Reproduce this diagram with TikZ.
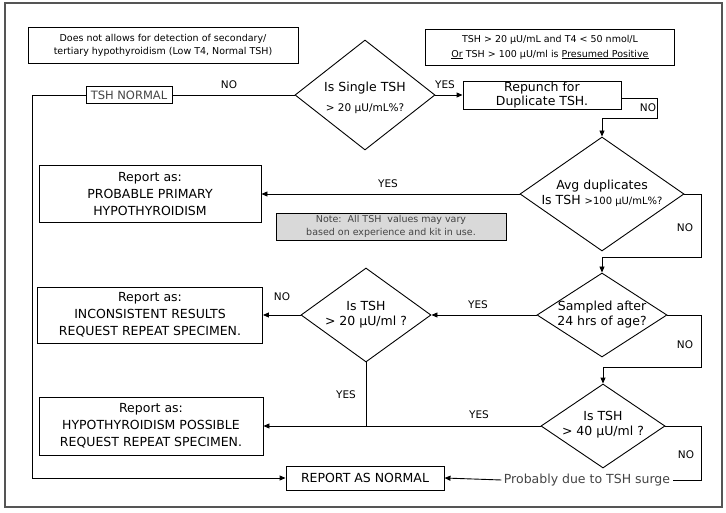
\documentclass[tikz,border=0pt]{standalone}
\usepackage{fontspec}
\setmainfont{DejaVu Sans}
\usetikzlibrary{shapes.geometric,arrows.meta}

\definecolor{framegray}{HTML}{555555}
\definecolor{notefill}{HTML}{D9D9D9}
\definecolor{softtext}{HTML}{444444}

\tikzset{
    box/.style={draw, inner sep=0pt, align=center, font=\fontsize{12.5}{17}\selectfont},
    smallbox/.style={draw, inner sep=0pt, align=center, font=\fontsize{9.5}{13}\selectfont},
    dia/.style={draw, diamond, inner sep=0pt},
    dtxt/.style={align=center, font=\fontsize{12.5}{15}\selectfont},
    lbl/.style={font=\fontsize{10.5}{11}\selectfont},
    arr/.style={-{Triangle[length=6pt,width=5pt]}},
}

\begin{document}
\begin{tikzpicture}[x=1pt, y=-1pt, line width=0.9pt]
    \useasboundingbox (0,0) rectangle (726,513);
    \draw[line width=2.5pt, framegray] (5,3) rectangle (722,507);

    % remarks at the top
    \node[smallbox, minimum width=270pt, minimum height=36pt] (limit) at (163,45)
        {Does not allows for detection of secondary/\\tertiary hypothyroidism (Low T4, Normal TSH)};
    \node[smallbox, minimum width=249pt, minimum height=36pt, font=\fontsize{9.5}{15}\selectfont] (rule) at (550,47)
        {TSH > 20 µU/mL and T4 < 50 nmol/L\\\underline{Or} TSH > 100 µU/ml is \underline{Presumed Positive}};
    \node[smallbox, minimum width=230pt, minimum height=27pt, fill=notefill, text=softtext] (note) at (391,226.5)
        {Note:~~All TSH~~values may vary\\based on experience and kit in use.};

    % decisions
    \node[dia, minimum width=140pt, minimum height=110pt] (single) at (365,95) {};
    \node[dtxt] at (365,98) {Is Single TSH\\[5pt]{\fontsize{10.5}{12}\selectfont > 20 µU/mL\%?}};
    \node[dia, minimum width=164pt, minimum height=114pt] (avg) at (602,194) {};
    \node[dtxt] at (602,193) {Avg duplicates\\Is TSH {\fontsize{10}{12}\selectfont >100 µU/mL\%?}};
    \node[dia, minimum width=130pt, minimum height=84pt] (age) at (602,315) {};
    \node[dtxt] at (602,315) {Sampled after\\24 hrs of age?};
    \node[dia, minimum width=130pt, minimum height=94pt] (twenty) at (366,315) {};
    \node[dtxt] at (366,315) {Is TSH\\> 20 µU/ml ?};
    \node[dia, minimum width=124pt, minimum height=84pt] (forty) at (603,426) {};
    \node[dtxt] at (603,425) {Is TSH\\> 40 µU/ml ?};

    % boxes
    \node[box, minimum width=158pt, minimum height=28pt, font=\fontsize{12.5}{14}\selectfont] (repunch) at (542,95)
        {Repunch for\\Duplicate TSH.};
    \node[box, minimum width=222pt, minimum height=57pt] (primary) at (150,194)
        {Report as:\\PROBABLE PRIMARY\\HYPOTHYROIDISM};
    \node[box, minimum width=225pt, minimum height=56pt] (inconsistent) at (150,315)
        {Report as:\\INCONSISTENT RESULTS\\REQUEST REPEAT SPECIMEN.};
    \node[box, minimum width=224pt, minimum height=58pt] (possible) at (151,426)
        {Report as:\\HYPOTHYROIDISM POSSIBLE\\REQUEST REPEAT SPECIMEN.};
    \node[box, minimum width=158pt, minimum height=24pt] (normal) at (365,478) {REPORT AS NORMAL};
    \node[draw, inner sep=0pt, minimum width=86pt, minimum height=17pt, text=softtext,
        font=\fontsize{11.5}{12}\selectfont] (tshnormal) at (129,95) {TSH NORMAL};
    \node[text=softtext, inner sep=2pt, font=\fontsize{12.5}{13}\selectfont] (surge) at (587,480)
        {Probably due to TSH surge};

    % turning points
    \coordinate (down) at (32,478);
    \coordinate (loopa) at (657,118);
    \coordinate (loopb) at (701,257);
    \coordinate (loopc) at (701,367);
    \coordinate (loopd) at (701,480);

    % connectors
    \draw (single.west) -- (tshnormal.east);
    \draw[arr] (tshnormal.west) -| (down) -- (normal.west);
    \draw[arr] (single.east) -- (repunch.west);
    \draw[arr] ([yshift=-3pt]repunch.east) -| (loopa) -| (avg.north);
    \draw[arr] (avg.west) -- (primary.east);
    \draw[arr] (avg.east) -| (loopb) -| (age.north);
    \draw[arr] (age.west) -- (twenty.east);
    \draw[arr] (age.east) -| (loopc) -| (forty.north);
    \draw[arr] (twenty.west) -- (inconsistent.east);
    \draw (twenty.south) -- (twenty.south |- possible.east);
    \draw[arr] (forty.west) -- (possible.east);
    \draw (forty.east) -| (loopd) -- (surge.east);
    \draw[arr] (surge.west) -- (normal.east);

    % branch labels
    \node[lbl] at (229,85) {NO};
    \node[lbl] at (445,85) {YES};
    \node[lbl] at (648,108) {NO};
    \node[lbl] at (388,184) {YES};
    \node[lbl] at (685,228) {NO};
    \node[lbl] at (478,305) {YES};
    \node[lbl] at (685,345) {NO};
    \node[lbl] at (282,297) {NO};
    \node[lbl] at (346,395) {YES};
    \node[lbl] at (479,415) {YES};
    \node[lbl] at (686,455) {NO};
\end{tikzpicture}
\end{document}
